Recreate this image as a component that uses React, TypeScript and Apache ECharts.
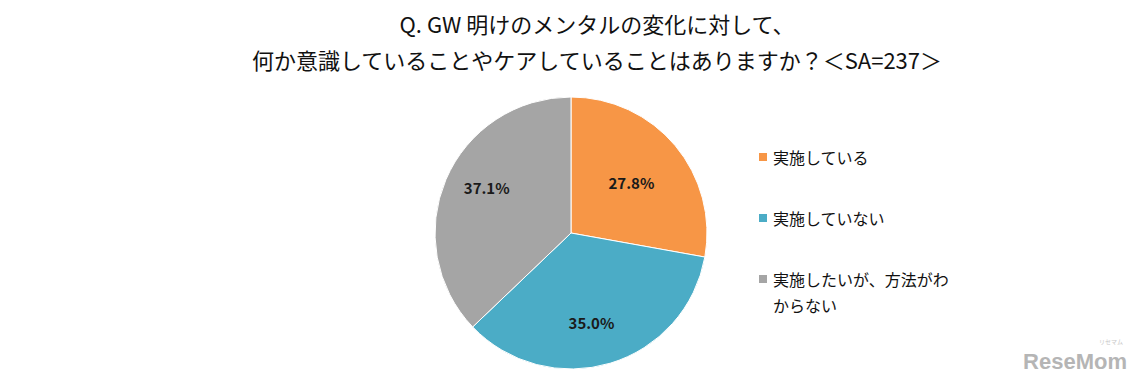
import React, { useEffect, useRef } from "react";
import * as echarts from "echarts";

const titleLines = ["Q. GW 明けのメンタルの変化に対して、", "何か意識していることやケアしていることはありますか？＜SA=237＞"];
const categories = ["実施している", "実施していない", "実施したいが、方法がわからない"];
const legendLabels = ["実施している", "実施していない", "実施したいが、方法がわ\nからない"];
const values = [27.8, 35.0, 37.1];
const colors = ["#F79646", "#4BACC6", "#A5A5A5"];

export default function App() {
  const ref = useRef<HTMLDivElement>(null);
  useEffect(() => {
    document.body.style.margin = "0";
    const chart = echarts.init(ref.current!, null, { renderer: "svg" });
    const labelOffsets = [[6, -5], [0, 22], [-19, -18]];
    const font = "'Noto Sans CJK JP', 'Noto Sans', sans-serif";
    // Pad every legend entry to three lines so its first text line sits beside the icon
    const padLegend = (label: string) => {
      const lines = label.split("\n");
      return [" ", ...lines, ...(lines.length < 2 ? [" "] : [])].join("\n");
    };
    chart.setOption({
      animation: false,
      backgroundColor: "#ffffff",
      title: {
        text: titleLines.join("\n"),
        left: 592,
        textAlign: "center",
        top: 0,
        textStyle: {
          fontFamily: font,
          fontSize: 22,
          fontWeight: "normal",
          color: "#111",
          lineHeight: 36,
        },
      },
      legend: {
        orient: "vertical",
        left: 752,
        top: 113,
        itemWidth: 10,
        itemHeight: 10,
        itemGap: -17,
        icon: "rect",
        data: categories,
        formatter: (name: string) => padLegend(legendLabels[categories.indexOf(name)]),
        textStyle: {
          fontFamily: font,
          fontSize: 16,
          color: "#111",
          lineHeight: 26,
        },
      },
      graphic: [
        {
          type: "text",
          right: 20,
          bottom: 12,
          style: {
            text: "ReseMom",
            font: "bold 22px 'Liberation Sans', sans-serif",
            fill: "#b5b5b5",
          },
        },
        {
          type: "text",
          right: 24,
          bottom: 40,
          style: {
            text: "リセマム",
            font: "6px 'Noto Sans CJK JP', sans-serif",
            fill: "#c8c8c8",
          },
        },
      ],
      series: [
        {
          type: "pie",
          center: [571, 233],
          radius: 136,
          startAngle: 90,
          clockwise: true,
          avoidLabelOverlap: false,
          itemStyle: { borderColor: "#ffffff", borderWidth: 1 },
          label: {
            show: true,
            position: "inside",
            formatter: (p: any) => p.value.toFixed(1) + "%",
            fontFamily: font,
            fontSize: 15,
            fontWeight: "bold",
            color: "#1a1a1a",
          },
          labelLine: { show: false },
          emphasis: { disabled: true },
          data: categories.map((name, i) => ({
            name,
            value: values[i],
            itemStyle: { color: colors[i] },
            label: { offset: labelOffsets[i] },
          })),
        },
      ],
    });
    return () => chart.dispose();
  }, []);
  return <div ref={ref} style={{ width: 1147, height: 384 }} />;
}
